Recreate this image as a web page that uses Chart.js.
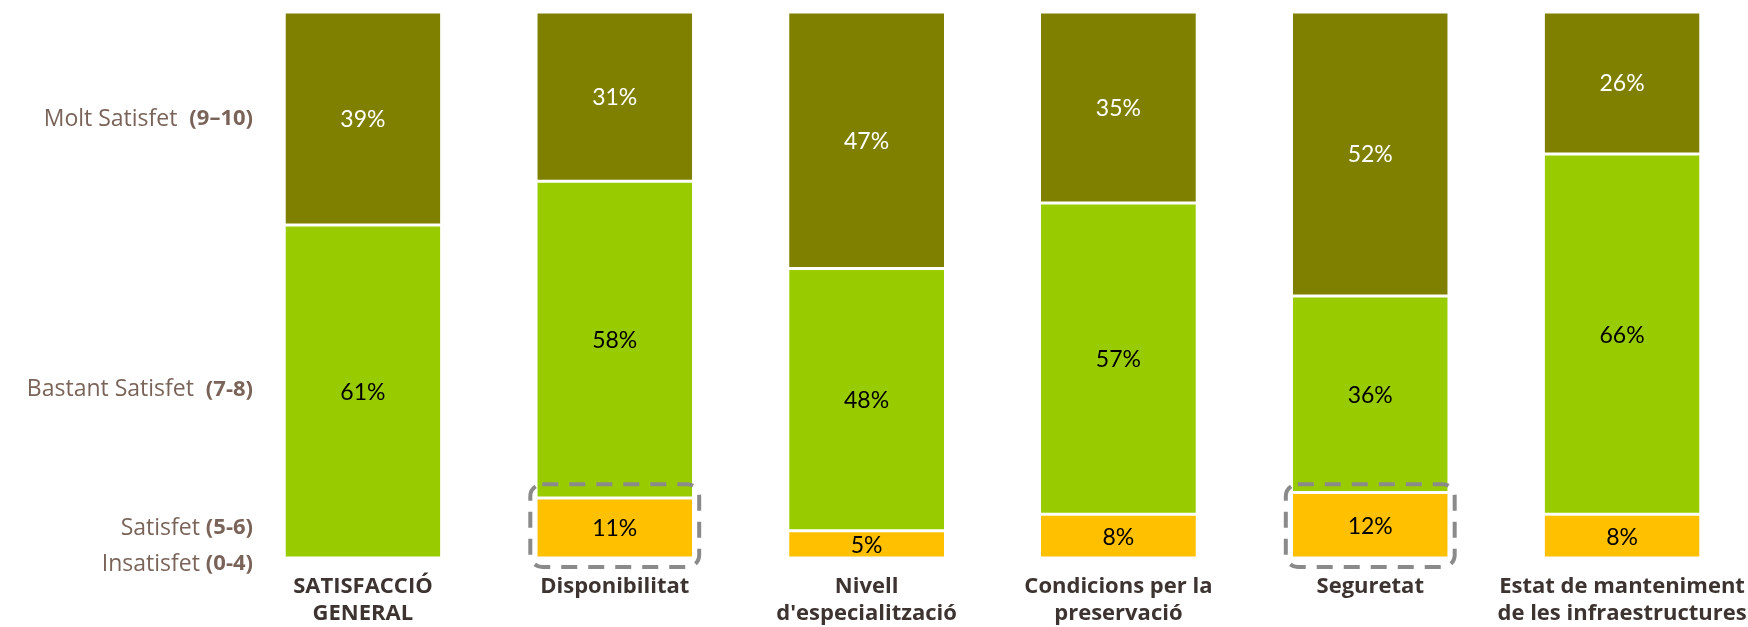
<!DOCTYPE html>
<html>
<head>
<meta charset="utf-8">
<script src="https://cdn.jsdelivr.net/npm/chart.js@4/dist/chart.umd.min.js"></script>
<style>
html, body { margin: 0; padding: 0; background: #fff; }
#wrap { width: 1748px; height: 627px; }
</style>
</head>
<body>
<div id="wrap"><canvas id="chart"></canvas></div>
<script>
// Survey data (percentages per aspect)
const categories = [
    ['SATISFACCIÓ', 'GENERAL'],
    ['Disponibilitat'],
    ['Nivell', "d'especialització"],
    ['Condicions per la', 'preservació'],
    ['Seguretat'],
    ['Estat de manteniment', 'de les infraestructures']
];
const moltSatisfet = [39, 31, 47, 35, 52, 26];
const bastantSatisfet = [61, 58, 48, 57, 36, 66];
const satisfet = [0, 11, 5, 8, 12, 8];

// Left side level labels and where they sit on the 0-100 scale
const levelNames = ['Molt Satisfet  ', 'Bastant Satisfet  ', 'Satisfet ', 'Insatisfet '];
const levelRanges = ['(9–10)', '(7-8)', '(5-6)', '(0-4)'];
const levelAt = [80.4, 30.8, 5.5, -1.1];

// Aspects with the dashed box around the "Satisfet" segment
const highlighted = [1, 4];

const FONT = '"Lato", "DejaVu Sans", sans-serif';
const SIDE_FONT = '"Open Sans", "Lato", sans-serif';

const valueLabels = {
    id: 'valueLabels',
    afterDatasetsDraw(chart) {
        const ctx = chart.ctx;
        ctx.save();
        ctx.font = '23px ' + FONT;
        ctx.textAlign = 'center';
        ctx.textBaseline = 'middle';
        chart.data.datasets.forEach((ds, i) => {
            chart.getDatasetMeta(i).data.forEach((bar, j) => {
                const v = ds.data[j];
                if (!v) return;
                ctx.fillStyle = ds.labelColor;
                ctx.fillText(v + '%', bar.x, (bar.y + bar.base) / 2 + 1);
            });
        });
        ctx.restore();
    }
};

const dashedBoxes = {
    id: 'dashedBoxes',
    afterDatasetsDraw(chart) {
        const ctx = chart.ctx;
        const y = chart.scales.y;
        const meta = chart.getDatasetMeta(0);
        ctx.save();
        ctx.strokeStyle = '#8a8a8a';
        ctx.lineWidth = 4;
        ctx.setLineDash([16, 11]);
        highlighted.forEach(idx => {
            const bar = meta.data[idx];
            const left = bar.x - bar.width / 2 - 7;
            const right = bar.x + bar.width / 2 + 7;
            const top = y.getPixelForValue(13.5);
            const bottom = bar.base + 9;
            ctx.beginPath();
            ctx.roundRect(left, top, right - left, bottom - top, 12);
            ctx.stroke();
        });
        ctx.restore();
    }
};

const levelLabels = {
    id: 'levelLabels',
    afterDraw(chart) {
        const ctx = chart.ctx;
        const y = chart.scales.y;
        const x = 253;
        ctx.save();
        ctx.fillStyle = '#7a6459';
        ctx.textAlign = 'right';
        ctx.textBaseline = 'middle';
        levelNames.forEach((name, i) => {
            const py = y.getPixelForValue(levelAt[i]);
            ctx.font = 'bold 22px ' + SIDE_FONT;
            ctx.fillText(levelRanges[i], x, py);
            const w = ctx.measureText(levelRanges[i]).width;
            ctx.font = '23px ' + SIDE_FONT;
            ctx.fillText(name, x - w, py);
        });
        ctx.restore();
    }
};

new Chart(document.getElementById('chart').getContext('2d'), {
    type: 'bar',
    data: {
        labels: categories,
        datasets: [
            { label: 'Satisfet (5-6)', data: satisfet, backgroundColor: '#ffc000', labelColor: '#000000' },
            { label: 'Bastant Satisfet (7-8)', data: bastantSatisfet, backgroundColor: '#99cc00', labelColor: '#000000' },
            { label: 'Molt Satisfet (9-10)', data: moltSatisfet, backgroundColor: '#808000', labelColor: '#ffffff' }
        ].map(ds => Object.assign(ds, {
            borderColor: '#ffffff',
            borderWidth: { top: 1.5, bottom: 1.5, left: 0, right: 0 },
            borderSkipped: false,
            barPercentage: 0.615,
            categoryPercentage: 1
        }))
    },
    options: {
        responsive: true, maintainAspectRatio: false,
        animation: false,
        layout: { padding: { left: 237, top: 12, right: 0, bottom: 0 } },
        scales: {
            x: {
                stacked: true,
                grid: { display: false },
                border: { display: false },
                ticks: {
                    color: '#3d3431',
                    font: { family: SIDE_FONT, weight: 'bold', size: 22, lineHeight: 1.22 },
                    padding: 7, autoSkip: false, maxRotation: 0, minRotation: 0
                },
                afterFit: (s) => {
                    s.height = 69;
                    s.paddingLeft = 0;
                    s.paddingRight = 0;
                }
            },
            y: { stacked: true, min: 0, max: 100, display: false }
        },
        plugins: {
            legend: { display: false },
            tooltip: { enabled: false }
        }
    },
    plugins: [valueLabels, dashedBoxes, levelLabels]
});
</script>
</body>
</html>
